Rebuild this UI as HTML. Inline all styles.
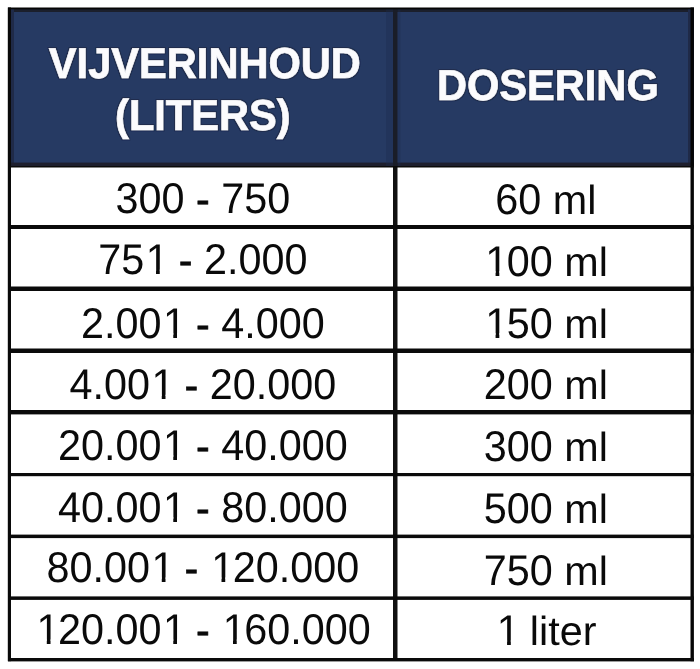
<!DOCTYPE html>
<html><head><meta charset="utf-8"><title>Vijverinhoud dosering</title><style>
html,body{margin:0;padding:0;}
body{width:700px;height:669px;background:#fff;position:relative;overflow:hidden;}
svg{position:absolute;left:0;top:0;filter:blur(0.4px);will-change:transform;}
text{font-family:"Liberation Sans",sans-serif;font-kerning:none;text-rendering:geometricPrecision;white-space:pre;}
.b{font-size:41.35px;fill:#0a0a0a;}
.hy{stroke:#0a0a0a;stroke-width:0.6px;}
.h{font-size:41.6px;font-weight:bold;fill:#fbfbfd;stroke:#fbfbfd;stroke-width:0.6px;}
.hh{font-size:41.6px;font-weight:bold;fill:none;stroke:#141a2c;stroke-opacity:0.45;stroke-width:2.6px;stroke-linejoin:round;}
</style></head><body>
<svg width="700" height="669" viewBox="0 0 700 669">
<rect x="8" y="8" width="686" height="159" fill="#263a63"/>
<rect x="8" y="9" width="686" height="3" fill="#1b1f2c"/>
<rect x="11" y="8" width="3" height="159" fill="#1f2a48"/>
<rect x="688" y="8" width="3" height="159" fill="#1f2a48"/>
<rect x="8" y="162.6" width="686" height="3.4" fill="#1e1f2e"/>
<rect x="7.8" y="7.5" width="3.2" height="653.7" fill="#0a0a0a"/>
<rect x="690.5" y="7.5" width="3.4" height="653.7" fill="#050505"/>
<rect x="386" y="8" width="7" height="159" fill="#1c2a4c" fill-opacity="0.35"/>
<rect x="397.5" y="8" width="3" height="159" fill="#1c2a4c" fill-opacity="0.35"/>
<rect x="393" y="8" width="4.5" height="159" fill="#1a1d28"/>
<rect x="393" y="166" width="4.5" height="495" fill="#101010"/>
<rect x="8" y="7.5" width="686" height="1.8" fill="#050505"/>
<rect x="8" y="166" width="686" height="1.5" fill="#0a0a0a"/>
<rect x="8" y="225" width="686" height="4" fill="#0a0a0a"/>
<rect x="8" y="286.5" width="686" height="4.5" fill="#0a0a0a"/>
<rect x="8" y="348.5" width="686" height="4.5" fill="#0a0a0a"/>
<rect x="8" y="410" width="686" height="4.4" fill="#0a0a0a"/>
<rect x="8" y="473" width="686" height="3.2" fill="#0a0a0a"/>
<rect x="8" y="534.6" width="686" height="3.5" fill="#0a0a0a"/>
<rect x="8" y="596.4" width="686" height="3.5" fill="#0a0a0a"/>
<rect x="8" y="658" width="686" height="3.4" fill="#0a0a0a"/>
<filter id="halo" x="-5%" y="-20%" width="110%" height="140%"><feMorphology in="SourceAlpha" operator="dilate" radius="1.3" result="d"/><feFlood flood-color="#141a2c" flood-opacity="0.45"/><feComposite in2="d" operator="in"/><feMerge><feMergeNode/><feMergeNode in="SourceGraphic"/></feMerge></filter>
<g filter="url(#halo)">
<text class="h" transform="translate(48.87,77.7) scale(1,1.04)">VIJVERINHOUD</text>
<text class="h" transform="translate(115.04,130.1) scale(1,1.04)">(LITERS)</text>
<text class="h" transform="translate(436.9,99.9) scale(1,1.04)">DOSERING</text>
</g>
<text class="b" transform="translate(115.54,212.9) scale(1,1.04)"><tspan>300 </tspan><tspan dy="1.1" class="hy">-</tspan><tspan dy="-1.1"> 750</tspan></text>
<text class="b" transform="translate(495.34,214.3) scale(1,1.04)"><tspan>60 </tspan></text>
<text class="b" transform="translate(552.83,214.3) scale(1,0.985)">ml</text>
<text class="b" transform="translate(98.29,274.1) scale(1,1.04)"><tspan>75</tspan><tspan dx="1.37">1</tspan><tspan dx="-1.37"> </tspan><tspan dy="1.1" class="hy">-</tspan><tspan dy="-1.1"> 2.000</tspan></text>
<text class="b" transform="translate(483.84,275.7) scale(1,1.04)"><tspan dx="1.37">1</tspan><tspan dx="-1.37">00 </tspan></text>
<text class="b" transform="translate(564.32,275.7) scale(1,0.985)">ml</text>
<text class="b" transform="translate(81.05,337.6) scale(1,1.04)"><tspan>2.00</tspan><tspan dx="1.37">1</tspan><tspan dx="-1.37"> </tspan><tspan dy="1.1" class="hy">-</tspan><tspan dy="-1.1"> 4.000</tspan></text>
<text class="b" transform="translate(483.84,337.7) scale(1,1.04)"><tspan dx="1.37">1</tspan><tspan dx="-1.37">50 </tspan></text>
<text class="b" transform="translate(564.32,337.7) scale(1,0.985)">ml</text>
<text class="b" transform="translate(69.55,399.3) scale(1,1.04)"><tspan>4.00</tspan><tspan dx="1.37">1</tspan><tspan dx="-1.37"> </tspan><tspan dy="1.1" class="hy">-</tspan><tspan dy="-1.1"> 20.000</tspan></text>
<text class="b" transform="translate(483.84,399.4) scale(1,1.04)"><tspan>200 </tspan></text>
<text class="b" transform="translate(564.32,399.4) scale(1,0.985)">ml</text>
<text class="b" transform="translate(58.05,459.7) scale(1,1.04)"><tspan>20.00</tspan><tspan dx="1.37">1</tspan><tspan dx="-1.37"> </tspan><tspan dy="1.1" class="hy">-</tspan><tspan dy="-1.1"> 40.000</tspan></text>
<text class="b" transform="translate(483.84,461) scale(1,1.04)"><tspan>300 </tspan></text>
<text class="b" transform="translate(564.32,461) scale(1,0.985)">ml</text>
<text class="b" transform="translate(58.05,521.5) scale(1,1.04)"><tspan>40.00</tspan><tspan dx="1.37">1</tspan><tspan dx="-1.37"> </tspan><tspan dy="1.1" class="hy">-</tspan><tspan dy="-1.1"> 80.000</tspan></text>
<text class="b" transform="translate(483.84,522.9) scale(1,1.04)"><tspan>500 </tspan></text>
<text class="b" transform="translate(564.32,522.9) scale(1,0.985)">ml</text>
<text class="b" transform="translate(46.56,582) scale(1,1.04)"><tspan>80.00</tspan><tspan dx="1.37">1</tspan><tspan dx="-1.37"> </tspan><tspan dy="1.1" class="hy">-</tspan><tspan dy="-1.1"> </tspan><tspan dx="1.37">1</tspan><tspan dx="-1.37">20.000</tspan></text>
<text class="b" transform="translate(483.84,585) scale(1,1.04)"><tspan>750 </tspan></text>
<text class="b" transform="translate(564.32,585) scale(1,0.985)">ml</text>
<text class="b" transform="translate(35.06,644) scale(1,1.04)"><tspan dx="1.37">1</tspan><tspan dx="-1.37">20.00</tspan><tspan dx="1.37">1</tspan><tspan dx="-1.37"> </tspan><tspan dy="1.1" class="hy">-</tspan><tspan dy="-1.1"> </tspan><tspan dx="1.37">1</tspan><tspan dx="-1.37">60.000</tspan></text>
<text class="b" transform="translate(495.34,644.8) scale(1,1.04)"><tspan dx="1.37">1</tspan><tspan dx="-1.37"> </tspan></text>
<text class="b" transform="translate(529.83,644.8) scale(1,0.985)">liter</text>
<rect x="147.48" y="269.58" width="8.54" height="5.72" fill="#fff"/>
<rect x="159.75" y="269.58" width="8.32" height="5.72" fill="#fff"/>
<rect x="487.03" y="271.18" width="8.54" height="5.72" fill="#fff"/>
<rect x="499.31" y="271.18" width="8.32" height="5.72" fill="#fff"/>
<rect x="164.72" y="333.08" width="8.54" height="5.72" fill="#fff"/>
<rect x="177" y="333.08" width="8.32" height="5.72" fill="#fff"/>
<rect x="487.03" y="333.18" width="8.54" height="5.72" fill="#fff"/>
<rect x="499.31" y="333.18" width="8.32" height="5.72" fill="#fff"/>
<rect x="153.22" y="394.78" width="8.54" height="5.72" fill="#fff"/>
<rect x="165.5" y="394.78" width="8.32" height="5.72" fill="#fff"/>
<rect x="164.72" y="455.18" width="8.54" height="5.72" fill="#fff"/>
<rect x="177" y="455.18" width="8.32" height="5.72" fill="#fff"/>
<rect x="164.72" y="516.98" width="8.54" height="5.72" fill="#fff"/>
<rect x="177" y="516.98" width="8.32" height="5.72" fill="#fff"/>
<rect x="153.22" y="577.48" width="8.54" height="5.72" fill="#fff"/>
<rect x="165.5" y="577.48" width="8.32" height="5.72" fill="#fff"/>
<rect x="212.96" y="577.48" width="8.54" height="5.72" fill="#fff"/>
<rect x="225.24" y="577.48" width="8.32" height="5.72" fill="#fff"/>
<rect x="38.25" y="639.48" width="8.54" height="5.72" fill="#fff"/>
<rect x="50.52" y="639.48" width="8.32" height="5.72" fill="#fff"/>
<rect x="164.72" y="639.48" width="8.54" height="5.72" fill="#fff"/>
<rect x="177" y="639.48" width="8.32" height="5.72" fill="#fff"/>
<rect x="224.46" y="639.48" width="8.54" height="5.72" fill="#fff"/>
<rect x="236.74" y="639.48" width="8.32" height="5.72" fill="#fff"/>
<rect x="498.53" y="640.28" width="8.54" height="5.72" fill="#fff"/>
<rect x="510.81" y="640.28" width="8.32" height="5.72" fill="#fff"/>
</svg></body></html>
